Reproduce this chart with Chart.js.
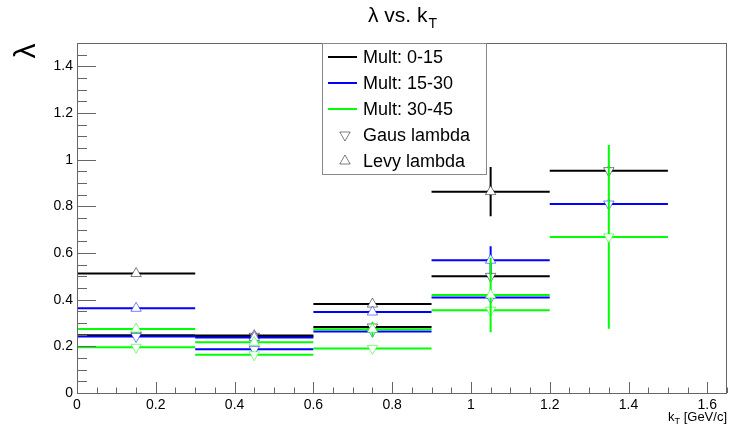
<!DOCTYPE html>
<html>
<head>
<meta charset="utf-8">
<script src="https://cdn.jsdelivr.net/npm/chart.js@4.4.1/dist/chart.umd.min.js"></script>
<style>
html, body { margin: 0; padding: 0; background: #fff; }
</style>
</head>
<body>
<canvas id="myChart" width="734" height="435"></canvas>
<script>
// kT bins
var binLow = [0, 0.3, 0.6, 0.9, 1.2];
var binHigh = [0.3, 0.6, 0.9, 1.2, 1.5];
var kTCenter = [0.15, 0.45, 0.75, 1.05, 1.35];

// axis tick labels
var xTicks = [0, 0.2, 0.4, 0.6, 0.8, 1, 1.2, 1.4, 1.6];
var yTicks = [0, 0.2, 0.4, 0.6, 0.8, 1, 1.2, 1.4];

// lambda values (Gaus fit / Levy fit)
var gaus0_15 = [0.248, 0.243, 0.283, 0.500, 0.953];
var gausErr0_15 = [0.01, 0.01, 0.01, 0.015, 0.02];
var levy0_15 = [0.512, 0.246, 0.381, 0.863, null];
var levyErr0_15 = [0.01, 0.01, 0.01, 0.106, 0];

var gaus15_30 = [0.242, 0.187, 0.264, 0.409, 0.810];
var gausErr15_30 = [0.01, 0.01, 0.01, 0.015, 0.02];
var levy15_30 = [0.363, 0.238, 0.347, 0.569, null];
var levyErr15_30 = [0.01, 0.01, 0.01, 0.06, 0];

var gaus30_45 = [0.196, 0.164, 0.191, 0.355, 0.669];
var gausErr30_45 = [0.01, 0.01, 0.01, 0.015, 0.394];
var levy30_45 = [0.274, 0.217, 0.273, 0.420, null];
var levyErr30_45 = [0.02, 0.01, 0.032, 0.16, 0];

var multLabels = ["Mult: 0-15", "Mult: 15-30", "Mult: 30-45"];
var lineColors = ["#000000", "#0000ff", "#00ff00"];
var markerColors = ["rgba(0,0,0,0.5)", "rgba(0,0,255,0.5)", "rgba(0,255,0,0.5)"];

var FONT = "'Liberation Sans', Arial, Helvetica, sans-serif";

// horizontal bin bars + vertical error bars, broken with null points
function barData(vals, errs) {
    var pts = [];
    for (var i = 0; i < vals.length; i++) {
        if (vals[i] === null) continue;
        pts.push({x: binLow[i], y: vals[i]}, {x: binHigh[i], y: vals[i]}, {x: binHigh[i], y: null});
        if (errs[i] > 0) {
            pts.push({x: kTCenter[i], y: vals[i] - errs[i]}, {x: kTCenter[i], y: vals[i] + errs[i]}, {x: kTCenter[i], y: null});
        }
    }
    return pts;
}

function markerData(vals) {
    var pts = [];
    for (var i = 0; i < vals.length; i++) {
        if (vals[i] === null) continue;
        pts.push({x: kTCenter[i], y: vals[i]});
    }
    return pts;
}

var series = [
    [gaus0_15, gausErr0_15, levy0_15, levyErr0_15],
    [gaus15_30, gausErr15_30, levy15_30, levyErr15_30],
    [gaus30_45, gausErr30_45, levy30_45, levyErr30_45]
];

var datasets = [];
var ord = 20;
series.forEach(function(s, m) {
    [[s[0], s[1], 180], [s[2], s[3], 0]].forEach(function(g) {
        datasets.push({
            data: barData(g[0], g[1]),
            showLine: true,
            spanGaps: false,
            borderColor: lineColors[m],
            borderWidth: 2,
            pointRadius: 0,
            order: ord--
        });
        datasets.push({
            data: markerData(g[0]),
            showLine: false,
            pointStyle: 'triangle',
            rotation: g[2],
            pointRadius: 6,
            pointBorderWidth: 1,
            pointBorderColor: markerColors[m],
            pointBackgroundColor: "#ffffff",
            order: ord--
        });
    });
});

function fmt(v) {
    return String(Math.round(v * 10) / 10);
}

var rootStyle = {
    id: 'rootStyle',
    afterDraw: function(chart) {
        var ctx = chart.ctx;
        var a = chart.chartArea;
        var xs = chart.scales.x, ys = chart.scales.y;
        ctx.save();

        // frame
        ctx.strokeStyle = "#666";
        ctx.lineWidth = 1;
        ctx.strokeRect(a.left + 0.5, a.top + 0.5, a.right - a.left - 1, a.bottom - a.top);

        // inward ticks
        ctx.beginPath();
        for (var k = 0; k * 0.05 <= 1.65 + 1e-9; k++) {
            var px = Math.round(xs.getPixelForValue(k * 0.05)) + 0.5;
            var len = (k % 4 === 0) ? 11 : 5.5;
            ctx.moveTo(px, a.bottom);
            ctx.lineTo(px, a.bottom - len);
        }
        for (k = 0; k * 0.05 <= 1.5 + 1e-9; k++) {
            var py = Math.round(ys.getPixelForValue(k * 0.05)) + 0.5;
            var ylen = (k % 4 === 0) ? 19 : 10;
            ctx.moveTo(a.left, py);
            ctx.lineTo(a.left + ylen, py);
        }
        ctx.stroke();

        // title
        ctx.fillStyle = "#000";
        ctx.textBaseline = "alphabetic";
        var main = "\u03bb vs. k";
        ctx.font = "21px " + FONT;
        var w1 = ctx.measureText(main).width;
        ctx.font = "14px " + FONT;
        var w2 = ctx.measureText("T").width;
        var tx = (a.left + a.right) / 2 - (w1 + w2) / 2;
        ctx.font = "21px " + FONT;
        ctx.textAlign = "left";
        ctx.fillText(main, tx, 22);
        ctx.font = "14px " + FONT;
        ctx.fillText("T", tx + w1 + 1, 28);

        // y title (rotated lambda)
        ctx.save();
        ctx.translate(35, 51);
        ctx.rotate(-Math.PI / 2);
        ctx.font = "30px " + FONT;
        ctx.textAlign = "center";
        ctx.fillText("\u03bb", 0, 0);
        ctx.restore();

        // x title
        ctx.font = "13px " + FONT;
        var rest = " [GeV/c]";
        var wr = ctx.measureText(rest).width;
        var wk = ctx.measureText("k").width;
        ctx.font = "9px " + FONT;
        var wt = ctx.measureText("T").width;
        var xEnd = a.right;
        ctx.font = "13px " + FONT;
        ctx.fillText(rest, xEnd - wr, 421);
        ctx.font = "9px " + FONT;
        ctx.fillText("T", xEnd - wr - wt, 424);
        ctx.font = "13px " + FONT;
        ctx.fillText("k", xEnd - wr - wt - wk, 421);

        // legend box
        var lx = 322, ly = 43, lw = 164, lh = 131;
        ctx.fillStyle = "#fff";
        ctx.fillRect(lx, ly, lw, lh);
        ctx.strokeStyle = "#888";
        ctx.strokeRect(lx + 0.5, ly + 0.5, lw, lh);
        var rowY = [57, 83, 109, 135, 161];
        ctx.font = "18px " + FONT;
        ctx.textBaseline = "middle";
        ctx.fillStyle = "#000";
        for (var i = 0; i < 3; i++) {
            ctx.strokeStyle = lineColors[i];
            ctx.lineWidth = 2;
            ctx.beginPath();
            ctx.moveTo(328, rowY[i]);
            ctx.lineTo(357, rowY[i]);
            ctx.stroke();
            ctx.fillText(multLabels[i], 363, rowY[i] + 1);
        }
        var mk = [["Gaus lambda", 180], ["Levy lambda", 0]];
        for (i = 0; i < 2; i++) {
            ctx.fillStyle = "#fff";
            ctx.strokeStyle = "rgba(0,0,0,0.5)";
            ctx.lineWidth = 1;
            Chart.helpers.drawPoint(ctx, {
                pointStyle: 'triangle', rotation: mk[i][1], radius: 6, borderWidth: 1
            }, 345, rowY[3 + i]);
            ctx.fillStyle = "#000";
            ctx.fillText(mk[i][0], 363, rowY[3 + i] + 1);
        }
        ctx.restore();
    }
};

var ctx = document.getElementById("myChart").getContext("2d");
var myChart = new Chart(ctx, {
    type: 'scatter',
    data: { datasets: datasets },
    options: {
        responsive: false,
        animation: false,
        layout: { padding: { top: 43, right: 4, left: 0, bottom: 0 } },
        plugins: {
            legend: { display: false },
            tooltip: { enabled: false },
            title: { display: false }
        },
        scales: {
            x: {
                type: 'linear',
                min: 0,
                max: 1.65,
                afterBuildTicks: function(s) { s.ticks = xTicks.map(function(v) { return {value: v}; }); },
                afterFit: function(s) { s.height = 42; },
                grid: { display: false, drawTicks: false },
                border: { display: false },
                ticks: {
                    padding: 4,
                    color: "#000",
                    font: { family: FONT, size: 14 },
                    maxRotation: 0,
                    autoSkip: false,
                    callback: fmt
                }
            },
            y: {
                type: 'linear',
                min: 0,
                max: 1.5,
                afterBuildTicks: function(s) { s.ticks = yTicks.map(function(v) { return {value: v}; }); },
                afterFit: function(s) { s.width = 77; },
                grid: { display: false, drawTicks: false },
                border: { display: false },
                ticks: {
                    padding: 4,
                    color: "#000",
                    font: { family: FONT, size: 14 },
                    autoSkip: false,
                    callback: fmt
                }
            }
        }
    },
    plugins: [rootStyle]
});
</script>
</body>
</html>
